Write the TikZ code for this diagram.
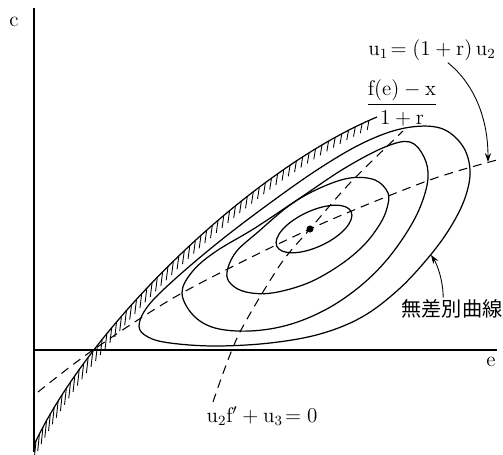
\documentclass[tikz,border=0pt]{standalone}
\usepackage{amsmath}
\usepackage{fontspec}
\newfontfamily\jpfont{Noto Sans CJK JP}
\usepackage{tikz}
\usetikzlibrary{arrows.meta,decorations.markings}

\begin{document}
\begin{tikzpicture}[x=0.02cm,y=-0.02cm,
  axis/.style={line width=0.8pt},
  curve/.style={line width=0.7pt},
  guide/.style={line width=0.6pt,dash pattern=on 5pt off 3.5pt},
  pointer/.style={line width=0.5pt,-{Stealth[length=5pt,width=3.5pt]}},
  lbl/.style={font=\large,inner sep=1pt},
  hatch/.style={postaction={decorate,decoration={markings,
    mark=between positions 0.01 and 0.995 step 4.3pt with
      {\pgfmathsetmacro\hl{10-0.017*\pgfkeysvalueof{/pgf/decoration/mark info/distance from start}}
       \pgftransformresetnontranslations
       \draw[line width=0.5pt] (0,0)--(-1pt,-\hl pt);}}}}]
  \useasboundingbox (0,0) rectangle (503,455);
  \coordinate (ctop) at (34,8);
  \coordinate (cbot) at (34,452);
  \coordinate (orig) at (34,350);
  \coordinate (eend) at (497,350);
  \draw[axis] (ctop)--(cbot);
  \draw[axis] (orig)--(eend);
  \node[lbl] (clab) at (14,22) {c};
  \node[lbl] (elab) at (491,362) {e};
  % budget constraint
  \draw[curve,hatch] (34,445) .. controls (90,325) and (250,170) .. (377,117);
  % indifference curves
  \draw[curve] (314,229) ellipse[x radius=41,y radius=18,rotate=25];
  \draw[curve] plot[smooth cycle,tension=0.6] coordinates {(227,272) (236,252) (258,232) (290,205) (320,188) (350,178) (375,180) (388,193) (387,208) (380,224) (364,245) (340,265) (308,283) (272,293) (246,292) (231,284)};
  \draw[curve] plot[smooth cycle,tension=0.6] coordinates {(182,293) (192,272) (215,252) (255,228) (300,198) (345,168) (385,147) (410,142) (424,157) (428,178) (421,205) (407,232) (385,262) (358,288) (325,310) (288,325) (250,331) (215,328) (193,315)};
  \draw[curve] plot[smooth cycle,tension=0.6] coordinates {(139,326) (148,306) (175,279) (220,241) (270,203) (320,168) (365,142) (405,128) (440,128) (462,145) (470,170) (465,198) (450,228) (428,258) (398,290) (362,317) (320,334) (270,343) (215,346) (170,343) (148,337)};
  % loci
  \draw[guide] plot[smooth] coordinates {(38,392) (93,350) (182,293) (310,229) (427,181) (497,160)};
  \draw[guide] plot[smooth] coordinates {(213,402) (238,336) (280,265) (310,229) (350,183) (403,131)};
  \node[circle,fill,inner sep=0pt,minimum size=4pt] (opt) at (310,229) {};
  \node[lbl] (budget) at (402,103) {$\dfrac{\mathrm{f(e)}-\mathrm{x}}{1+\mathrm{r}}$};
  \node[lbl] (focl) at (432,50) {$\mathrm{u}_1\!=(1+\mathrm{r})\,\mathrm{u}_2$};
  \node[lbl] (focu) at (262,416) {$\mathrm{u}_2\mathrm{f}'+\mathrm{u}_3\!=0$};
  \node[font=\jpfont\fontsize{11.5pt}{13pt}\selectfont,inner sep=1pt] (icl) at (452,309) {無差別曲線};
  \coordinate (tipA) at (488,162);
  \coordinate (tipB) at (431,255);
  \draw[pointer] ([xshift=9pt]focl.south) .. controls (472,82) and (488,115) .. (tipA);
  \draw[pointer] ([xshift=-5pt]icl.north) .. controls (443,280) and (437,264) .. (tipB);
\end{tikzpicture}
\end{document}
